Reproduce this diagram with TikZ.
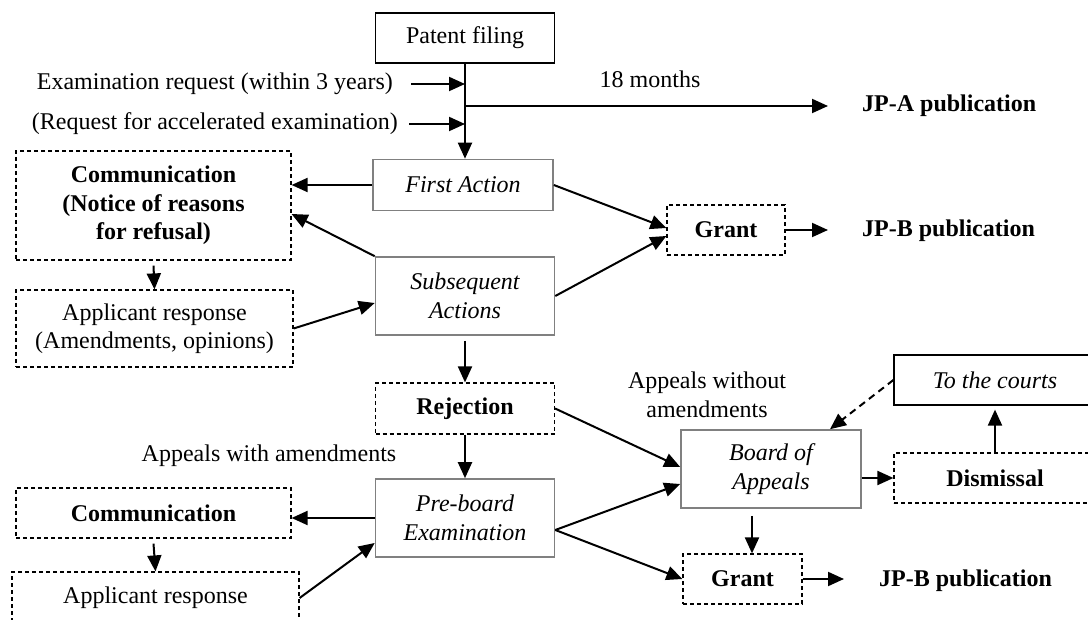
\documentclass[tikz,border=0pt]{standalone}
\usepackage{fontspec}
\setmainfont{Liberation Serif}
\usetikzlibrary{arrows.meta}

\begin{document}
\begin{tikzpicture}[x=1pt,y=-1pt,
		font=\fontsize{24}{28.5}\selectfont,
		itxt/.style={font=\fontsize{24}{28.5}\selectfont\itshape},
		btxt/.style={font=\fontsize{24}{28.5}\selectfont\bfseries},
		box/.style={draw, inner sep=0pt, align=center, line width=1.2pt},
		greybox/.style={box, draw=black!50, line width=1.6pt},
		dashbox/.style={box, dash pattern=on 4pt off 3pt},
		lbl/.style={inner sep=0pt, align=center},
		arr/.style={line width=2pt, -{Triangle[length=16pt,width=14pt]}}]
		\useasboundingbox (0,0) rectangle (1088,620);
		\clip (0,0) rectangle (1088,620);
		
		\node[box, minimum width=179pt, minimum height=50pt] (filing) at (465,38) {Patent filing};
		\node[greybox, itxt, minimum width=180pt, minimum height=51pt] (first) at (463,185) {First Action};
		\node[greybox, itxt, minimum width=179pt, minimum height=78pt] (subseq) at (465,296) {Subsequent\\Actions};
		\node[dashbox, btxt, minimum width=179pt, minimum height=51pt] (reject) at (465,408.5) {Rejection};
		\node[greybox, itxt, minimum width=179pt, minimum height=78pt] (preboard) at (465,518) {Pre-board\\Examination};
		
		\node[dashbox, btxt, minimum width=275pt, minimum height=109pt] (comm1) at (153.5,205.5) {Communication\\(Notice of reasons\\for refusal)};
		\node[dashbox, minimum width=277pt, minimum height=77pt] (appl1) at (154.5,328.5) {Applicant response\\(Amendments, opinions)};
		\node[dashbox, btxt, minimum width=275pt, minimum height=50pt] (comm2) at (153.5,513) {Communication};
		\node[dashbox, minimum width=287pt, minimum height=52pt] (appl2) at (155.5,598) {Applicant response};
		
		\node[dashbox, btxt, minimum width=118pt, minimum height=50pt] (grant1) at (726,230) {Grant};
		\node[greybox, itxt, minimum width=180pt, minimum height=78pt] (board) at (771,469) {Board of\\Appeals};
		\node[dashbox, btxt, minimum width=119pt, minimum height=50pt] (grant2) at (742.5,579) {Grant};
		\node[box, itxt, minimum width=202pt, minimum height=50pt] (courts) at (995,380) {To the courts};
		\node[dashbox, btxt, minimum width=202pt, minimum height=50pt] (dismiss) at (995,478) {Dismissal};
		
		\node[lbl, anchor=east] (exam) at (393,84) {Examination request (within 3 years)};
		\node[lbl, anchor=east] (accel) at (398,124) {(Request for accelerated examination)};
		\node[lbl] (months) at (650,79) {18 months};
		\node[lbl, btxt, anchor=west] (jpa) at (862,106) {JP-A publication};
		\node[lbl, btxt, anchor=west] (jpb1) at (862,231) {JP-B publication};
		\node[lbl, btxt, anchor=west] (jpb2) at (879,581) {JP-B publication};
		\node[lbl] (withamend) at (269,456) {Appeals with amendments};
		\node[lbl] (noamend) at (707,395) {Appeals without\\amendments};
		
		\coordinate (split) at (465,106);
		\draw[arr] (filing.south) -- (filing.south |- first.north);
		\draw[arr] ([xshift=18pt]exam.east) -- (exam.east -| filing.south);
		\draw[arr] ([xshift=11pt]accel.east) -- (accel.east -| filing.south);
		\draw[arr] (split) -- ([xshift=-34pt]jpa.west);
		
		\draw[arr] (first.west) -- (first.west -| comm1.east);
		\draw[arr] (subseq.north west) -- ([yshift=-8.5pt]comm1.east);
		\draw[arr] ([yshift=-5pt]comm1.south) -- (appl1.north);
		\draw[arr] (appl1.east) -- ([yshift=-7pt]subseq.west);
		\draw[arr] (first.east) -- ([yshift=2pt]grant1.west);
		\draw[arr] (subseq.east) -- ([yshift=-6pt]grant1.west);
		\draw[arr] (grant1.east) -- ([xshift=-34pt]grant1.east -| jpb1.west);
		\draw[arr] ([yshift=-5pt]subseq.south) -- (reject.north);
		
		\draw[arr] (reject.south) -- (preboard.north);
		\draw[arr] (reject.east) -- ([yshift=2pt]board.west);
		\draw[arr] (preboard.west) -- (preboard.west -| comm2.east);
		\draw[arr] ([yshift=-5pt]comm2.south) -- (appl2.north);
		\draw[arr] (appl2.east) -- ([yshift=-25pt]preboard.west);
		\coordinate (prefork) at ([yshift=-12pt]preboard.east);
		\draw[arr] (prefork) -- ([yshift=-15pt]board.west);
		\draw[arr] (prefork) -- (grant2.west);
		
		\draw[arr] (board.east |- dismiss.west) -- (dismiss.west);
		\draw[arr] ([xshift=-19pt,yshift=-7pt]board.south) coordinate (bs) -- (bs |- grant2.north);
		\draw[arr] (grant2.east) -- ([xshift=-35pt]grant2.east -| jpb2.west);
		\draw[arr] (dismiss.north) -- ([yshift=-4pt]courts.south);
		\draw[arr, dash pattern=on 7pt off 5pt] (courts.west) -- ([xshift=59pt]board.north);
\end{tikzpicture}
\end{document}
